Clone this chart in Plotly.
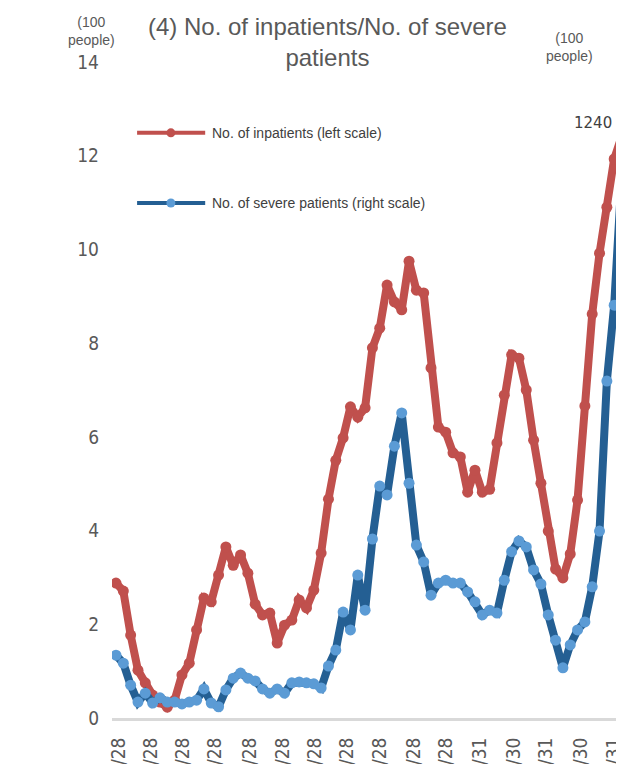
import plotly.graph_objects as go

# weekly values, in units of 100 people
inpatients = [2.88, 2.71, 1.77, 1.02, 0.75, 0.49, 0.34, 0.23, 0.38, 0.92,
              1.17, 1.88, 2.56, 2.48, 3.05, 3.65, 3.26, 3.48, 3.09, 2.43,
              2.20, 2.24, 1.60, 1.98, 2.09, 2.52, 2.35, 2.73, 3.52, 4.67,
              5.50, 5.98, 6.64, 6.42, 6.62, 7.90, 8.32, 9.24, 8.88, 8.71,
              9.75, 9.13, 9.07, 7.47, 6.21, 6.10, 5.66, 5.57, 4.82, 5.29,
              4.82, 4.88, 5.87, 6.89, 7.75, 7.68, 7.00, 5.93, 5.01, 3.99,
              3.18, 2.99, 3.50, 4.65, 6.66, 8.62, 9.92, 10.90, 11.93, 12.40]
severe = [1.34, 1.17, 0.70, 0.34, 0.53, 0.32, 0.43, 0.34, 0.34, 0.30,
          0.34, 0.38, 0.62, 0.32, 0.24, 0.60, 0.85, 0.96, 0.85, 0.79,
          0.62, 0.53, 0.62, 0.53, 0.75, 0.77, 0.75, 0.73, 0.64, 1.11,
          1.45, 2.26, 1.88, 3.05, 2.30, 3.82, 4.95, 4.76, 5.80, 6.51,
          5.01, 3.69, 3.33, 2.62, 2.88, 2.94, 2.88, 2.88, 2.69, 2.48,
          2.20, 2.30, 2.24, 2.94, 3.55, 3.78, 3.65, 3.16, 2.86, 2.20,
          1.66, 1.07, 1.56, 1.88, 2.05, 2.80, 3.99, 7.19, 8.81, 11.52]
weeks = list(range(len(inpatients)))

tick_weeks = [0.4, 4.8, 9.15, 13.5, 18.2, 22.8, 27.2, 31.5, 36.0, 40.7,
              45.0, 49.7, 54.3, 58.7, 63.4, 68.0]
tick_labels = ["2020/3/28", "2020/4/28", "2020/5/28", "2020/6/28", "2020/7/28",
               "2020/8/28", "2020/9/28", "2020/10/28", "2020/11/28", "2020/12/28",
               "2021/1/28", "2021/3/31", "2021/4/30", "2021/5/31", "2021/6/30",
               "2021/7/31"]

RED = '#c0504d'
BLUE_LINE = '#245f93'
BLUE_DOT = '#5b9bd5'
GREY = '#595959'
TICK_FONT = "Liberation Sans Narrow, DejaVu Sans Condensed, Arial Narrow, sans-serif"
TEXT_FONT = "Liberation Sans, Arial, sans-serif"

fig = go.Figure()

fig.add_trace(go.Scatter(
    x=weeks, y=inpatients, name='No. of inpatients (left scale)',
    mode='lines+markers',
    line=dict(color=RED, width=8),
    marker=dict(color=RED, size=11)
))

fig.add_trace(go.Scatter(
    x=weeks, y=severe, name='No. of severe patients (right scale)',
    mode='lines+markers', yaxis='y2',
    line=dict(color=BLUE_LINE, width=8),
    marker=dict(color=BLUE_DOT, size=11)
))

# hand-drawn legend (long line with a dot in the middle, like the source)
shapes = []
annotations = []
for y, color, dot, label in [(0.892, RED, RED, 'No. of inpatients (left scale)'),
                             (0.785, BLUE_LINE, BLUE_DOT, 'No. of severe patients (right scale)')]:
    shapes.append(dict(type='line', xref='paper', yref='paper',
                       x0=0.049, x1=0.182, y0=y, y1=y,
                       line=dict(color=color, width=4)))
    shapes.append(dict(type='circle', xref='paper', yref='paper',
                       xsizemode='pixel', ysizemode='pixel',
                       xanchor=0.115, yanchor=y, x0=-4.5, x1=4.5, y0=-4.5, y1=4.5,
                       fillcolor=dot, line=dict(width=0)))
    annotations.append(dict(text=label, xref='paper', yref='paper', x=0.191, y=y,
                            xanchor='left', yanchor='middle', showarrow=False,
                            font=dict(size=14, color='#404040', family=TEXT_FONT)))

annotations += [
    dict(text='(4) No. of inpatients/No. of severe<br>patients',
         xref='paper', yref='paper', x=0.42, y=1.031, showarrow=False,
         xanchor='center', yanchor='middle',
         font=dict(size=24, color=GREY, family=TEXT_FONT)),
    dict(text='(100<br>people)', xref='paper', yref='paper', x=-0.04, y=1.047,
         showarrow=False, xanchor='center', yanchor='middle',
         font=dict(size=14, color=GREY, family=TEXT_FONT)),
    dict(text='(100<br>people)', xref='paper', yref='paper', x=0.893, y=1.023,
         showarrow=False, xanchor='center', yanchor='middle',
         font=dict(size=14, color=GREY, family=TEXT_FONT)),
    dict(text=f'{inpatients[-1] * 100:.0f}', x=weeks[-1], y=inpatients[-1],
         showarrow=False, xanchor='right', yanchor='bottom', xshift=-8, yshift=3,
         font=dict(size=15, color='#404040', family="DejaVu Sans, sans-serif")),
]

# the page body adds an 8px offset, so the figure is 8px smaller than the window
fig.update_layout(
    width=616, height=756,
    margin=dict(l=104, r=0, t=54, b=46),
    plot_bgcolor='white', paper_bgcolor='white',
    showlegend=False,
    xaxis=dict(range=[-0.546, 69.34], tickmode='array', tickvals=tick_weeks,
               ticktext=tick_labels, tickangle=-90, ticks='', showgrid=False,
               zeroline=False, showline=True, linecolor='#d9d9d9', linewidth=3,
               ticklabelstandoff=9, ticklabeloverflow='allow', automargin=False,
               tickfont=dict(size=19, color=GREY, family=TICK_FONT)),
    yaxis=dict(range=[0, 14], dtick=2, showgrid=False, zeroline=False,
               showline=False, ticks='', ticklabelstandoff=12, automargin=False,
               tickfont=dict(size=19, color=GREY, family=TICK_FONT)),
    yaxis2=dict(range=[0, 14], overlaying='y', side='right', showgrid=False,
                zeroline=False, showticklabels=False),
    shapes=shapes,
    annotations=annotations,
)

fig.write_html("out.html")
